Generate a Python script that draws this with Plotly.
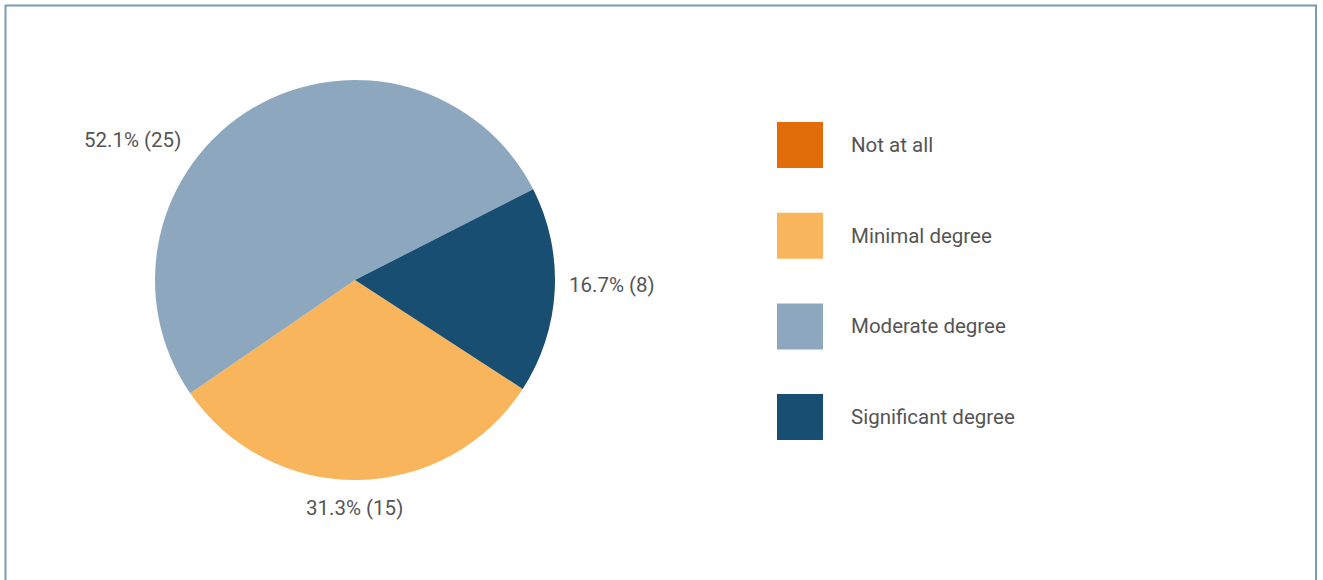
import plotly.graph_objects as go

# ---- data ----
categories = ["Not at all", "Minimal degree", "Moderate degree", "Significant degree"]
counts = [0, 15, 25, 8]
percent_labels = ["", "31.3%", "52.1%", "16.7%"]
colors = ["#E06C0A", "#F8B55C", "#8DA8BE", "#174E72"]

W, H = 1323, 580
FONT = "Roboto"
TXT = "#555555"


def px(x):
    return x / W


def py(y):
    return 1 - y / H


text = [f"{p} ({c})" if c > 0 else "" for p, c in zip(percent_labels, counts)]

cx, cy, r = 355, 280, 200
fig = go.Figure(go.Pie(
    labels=categories,
    values=counts,
    text=text,
    textinfo="none",
    marker=dict(colors=colors, line=dict(width=0)),
    sort=False,
    direction="clockwise",
    rotation=123,
    showlegend=False,
    hoverinfo="label+value+percent",
    domain=dict(x=[px(cx - r), px(cx + r)], y=[py(cy + r), py(cy - r)]),
))

shapes = [dict(type="rect", xref="paper", yref="paper",
               x0=px(5.5), x1=px(1316), y0=-0.05, y1=py(5.5),
               line=dict(color="#7A9BB5", width=2), fillcolor="rgba(0,0,0,0)")]
annotations = []

# slice labels (placed outside the pie)
label_pos = {1: (354, 508), 2: (132, 140), 3: (612, 285)}
for i, (x, y) in label_pos.items():
    annotations.append(dict(xref="paper", yref="paper", x=px(x), y=py(y),
                            text=text[i], showarrow=False, xanchor="center", yanchor="middle",
                            font=dict(family=FONT, size=20.5, color=TXT)))

# legend
leg_x, leg_y0, leg_dy, sq = 777, 145, 90.7, 46
for i, (name, col) in enumerate(zip(categories, colors)):
    yc = leg_y0 + i * leg_dy
    shapes.append(dict(type="rect", xref="paper", yref="paper",
                       x0=px(leg_x), x1=px(leg_x + sq),
                       y0=py(yc + sq / 2), y1=py(yc - sq / 2),
                       line=dict(width=0), fillcolor=col))
    annotations.append(dict(xref="paper", yref="paper", x=px(849), y=py(yc),
                            text=name, showarrow=False, xanchor="left", yanchor="middle",
                            font=dict(family=FONT, size=20.5, color=TXT)))

fig.update_layout(
    width=W, height=H,
    margin=dict(l=0, r=0, t=0, b=0),
    paper_bgcolor="white", plot_bgcolor="white",
    shapes=shapes, annotations=annotations,
    font=dict(family=FONT, color=TXT),
)
fig.write_html("out.html", config={"displayModeBar": False},
               post_script="document.body.style.margin='0';")
